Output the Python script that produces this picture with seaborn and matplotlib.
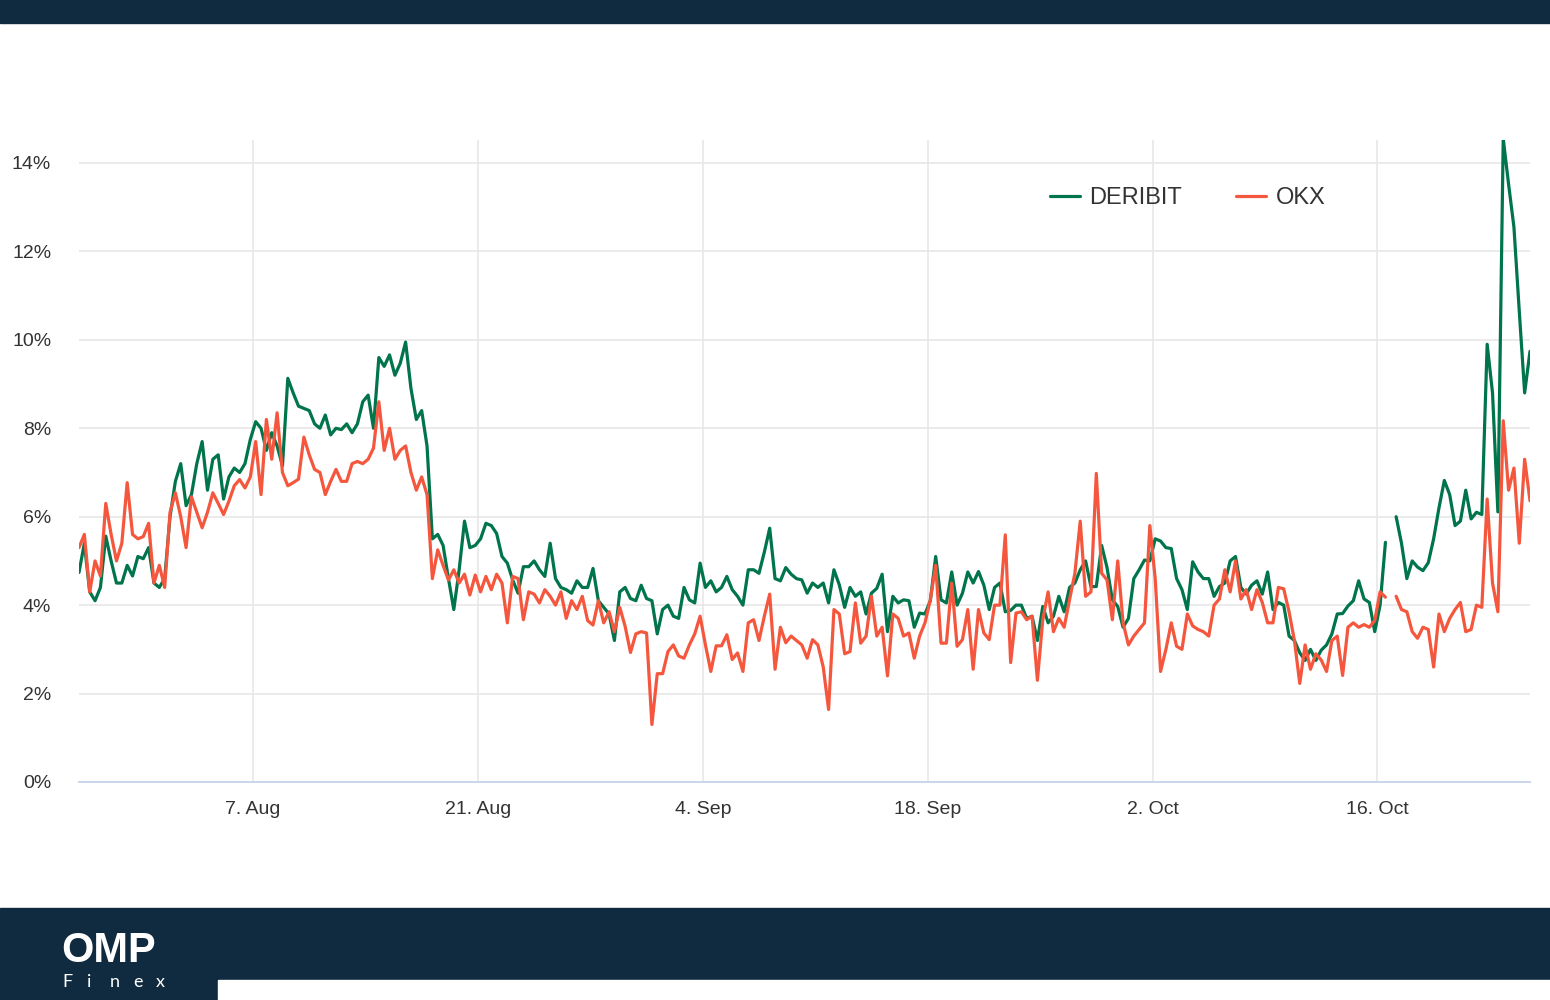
import numpy as np
import pandas as pd
import matplotlib.pyplot as plt
import matplotlib.dates as mdates
from matplotlib.lines import Line2D
from matplotlib.patches import Rectangle
import seaborn as sns

# values, one sample every 8 hours (3 per day)
start = "2023-07-27 04:00"
deribit = [
    4.74, 5.40, 4.30,  4.10, 4.40, 5.56,  5.00, 4.50, 4.50,  4.90, 4.66, 5.10,
    5.05, 5.30, 4.50,  4.40, 4.60, 6.00,  6.80, 7.20, 6.25,  6.50, 7.20, 7.70,
    6.60, 7.30, 7.40,  6.40, 6.90, 7.10,  7.00, 7.20, 7.75,  8.15, 8.00, 7.50,
    7.90, 7.60, 7.15,  9.13, 8.80, 8.50,  8.45, 8.40, 8.10,  8.00, 8.30, 7.85,
    8.00, 7.97, 8.10,  7.90, 8.10, 8.60,  8.75, 8.00, 9.60,  9.40, 9.66, 9.20,
    9.47, 9.95, 8.90,  8.20, 8.40, 7.60,  5.50, 5.60, 5.35,  4.60, 3.90, 4.80,
    5.90, 5.30, 5.35,  5.50, 5.85, 5.80,  5.62, 5.10, 4.95,  4.57, 4.27, 4.87,
    4.87, 5.00, 4.80,  4.65, 5.40, 4.60,  4.40, 4.35, 4.27,  4.55, 4.40, 4.40,
    4.83, 4.10, 3.95,  3.80, 3.20, 4.30,  4.40, 4.15, 4.10,  4.45, 4.15, 4.10,
    3.35, 3.90, 4.00,  3.75, 3.70, 4.40,  4.12, 4.05, 4.95,  4.40, 4.55, 4.30,
    4.40, 4.65, 4.35,  4.20, 4.00, 4.80,  4.80, 4.72, 5.20,  5.74, 4.60, 4.55,
    4.85, 4.70, 4.60,  4.57, 4.27, 4.50,  4.40, 4.50, 4.05,  4.80, 4.46, 3.95,
    4.40, 4.20, 4.30,  3.80, 4.27, 4.38,  4.70, 3.40, 4.20,  4.05, 4.12, 4.10,
    3.50, 3.82, 3.80,  4.10, 5.10, 4.12,  4.05, 4.75, 4.00,  4.27, 4.75, 4.50,
    4.76, 4.45, 3.90,  4.40, 4.50, 3.85,  3.88, 4.00, 4.00,  3.70, 3.75, 3.20,
    3.97, 3.60, 3.75,  4.20, 3.85, 4.40,  4.50, 4.80, 5.00,  4.42, 4.42, 5.35,
    4.85, 4.12, 3.97,  3.50, 3.70, 4.60,  4.80, 5.02, 5.00,  5.50, 5.45, 5.30,
    5.28, 4.60, 4.35,  3.90, 4.98, 4.75,  4.60, 4.60, 4.20,  4.42, 4.50, 5.00,
    5.10, 4.40, 4.25,  4.45, 4.55, 4.25,  4.75, 3.90, 4.06,  4.00, 3.30, 3.20,
    2.92, 2.75, 3.00,  2.75, 2.98, 3.10,  3.35, 3.80, 3.81,  3.98, 4.10, 4.55,
    4.14, 4.06, 3.40,  4.00, 5.42, np.nan,  6.00, 5.40, 4.60,  5.00, 4.86, 4.78,
    4.96, 5.50, 6.20,  6.82, 6.50, 5.80,  5.90, 6.60, 5.95,  6.10, 6.05, 9.90,
    8.80, 6.11, 14.55,  13.52, 12.55, 10.64,  8.80, 9.74,
]
okx = [
    5.30, 5.60, 4.30,  5.00, 4.66, 6.30,  5.60, 5.00, 5.40,  6.77, 5.60, 5.50,
    5.55, 5.85, 4.50,  4.90, 4.40, 6.10,  6.54, 6.00, 5.30,  6.45, 6.10, 5.75,
    6.10, 6.54, 6.30,  6.05, 6.35, 6.70,  6.84, 6.65, 6.90,  7.70, 6.50, 8.20,
    7.30, 8.35, 7.00,  6.70, 6.77, 6.85,  7.80, 7.40, 7.07,  7.00, 6.50, 6.80,
    7.07, 6.80, 6.80,  7.20, 7.25, 7.20,  7.30, 7.55, 8.60,  7.50, 8.00, 7.30,
    7.50, 7.60, 7.00,  6.60, 6.90, 6.50,  4.60, 5.25, 4.90,  4.57, 4.80, 4.50,
    4.70, 4.23, 4.68,  4.30, 4.65, 4.35,  4.70, 4.50, 3.60,  4.65, 4.60, 3.67,
    4.30, 4.25, 4.05,  4.35, 4.20, 4.00,  4.30, 3.70, 4.10,  3.90, 4.20, 3.65,
    3.55, 4.10, 3.60,  3.85, 3.40, 3.95,  3.52, 2.93, 3.35,  3.40, 3.37, 1.30,
    2.45, 2.45, 2.95,  3.10, 2.85, 2.80,  3.10, 3.35, 3.75,  3.10, 2.50, 3.08,
    3.08, 3.33, 2.77,  2.92, 2.50, 3.60,  3.67, 3.20, 3.75,  4.25, 2.55, 3.50,
    3.15, 3.30, 3.20,  3.10, 2.80, 3.22,  3.10, 2.60, 1.64,  3.90, 3.80, 2.90,
    2.95, 4.05, 3.14,  3.30, 4.20, 3.30,  3.50, 2.40, 3.80,  3.70, 3.30, 3.37,
    2.80, 3.30, 3.60,  4.12, 4.90, 3.14,  3.14, 4.50, 3.07,  3.22, 3.90, 2.55,
    3.90, 3.37, 3.22,  4.00, 4.00, 5.59,  2.70, 3.82, 3.85,  3.67, 3.75, 2.30,
    3.67, 4.30, 3.40,  3.70, 3.50, 4.12,  4.72, 5.90, 4.20,  4.30, 6.98, 4.72,
    4.57, 3.67, 5.00,  3.60, 3.10, 3.30,  3.45, 3.60, 5.80,  4.60, 2.50, 3.00,
    3.60, 3.07, 3.00,  3.80, 3.53, 3.45,  3.40, 3.30, 4.00,  4.14, 4.80, 4.30,
    5.00, 4.14, 4.35,  3.90, 4.35, 4.06,  3.60, 3.60, 4.40,  4.37, 3.85, 3.20,
    2.23, 3.10, 2.55,  2.90, 2.76, 2.50,  3.20, 3.30, 2.41,  3.50, 3.60, 3.50,
    3.56, 3.50, 3.65,  4.30, 4.18, np.nan,  4.20, 3.90, 3.85,  3.40, 3.25, 3.50,
    3.45, 2.60, 3.80,  3.40, 3.70, 3.90,  4.06, 3.40, 3.45,  4.00, 3.95, 6.40,
    4.50, 3.85, 8.17,  6.60, 7.10, 5.40,  7.30, 6.36,
]
series_names = ["DERIBIT", "OKX"]
colors = ["#00744b", "#f4573d"]
tick_dates = ["2023-08-07", "2023-08-21", "2023-09-04", "2023-09-18", "2023-10-02", "2023-10-16"]
tick_labels = ["7. Aug", "21. Aug", "4. Sep", "18. Sep", "2. Oct", "16. Oct"]
y_ticks = [0, 2, 4, 6, 8, 10, 12, 14]

navy = "#102b40"
grid_c = "#e6e6e6"
axis_c = "#ccd6eb"
text_c = "#333333"

sns.set_style("white")
plt.rcParams["font.family"] = ["Liberation Sans", "DejaVu Sans"]

times = pd.date_range(start, periods=len(deribit), freq="8h")
df = pd.DataFrame({"time": times, "DERIBIT": deribit, "OKX": okx})
# a missing sample splits the lines into two pieces
df["segment"] = df["DERIBIT"].isna().cumsum()
long = df.melt(id_vars=["time", "segment"], var_name="exchange", value_name="rate").dropna()

fig = plt.figure(figsize=(15.5, 10), dpi=100)
ax = fig.add_axes([79 / 1550, 218 / 1000, 1451 / 1550, 642 / 1000])

sns.lineplot(data=long, x="time", y="rate", hue="exchange", units="segment",
             estimator=None, palette=dict(zip(series_names, colors)),
             lw=2.3, legend=False, ax=ax)

ax.set_xlim(times[0], times[-1])
ax.set_ylim(0, 14.52)
ax.set_xlabel("")
ax.set_ylabel("")

ax.set_yticks(y_ticks)
ax.set_yticklabels([f"{v}%" for v in y_ticks])
ax.set_xticks(mdates.date2num(pd.to_datetime(tick_dates)))
ax.set_xticklabels(tick_labels)

ax.set_axisbelow(True)
ax.grid(True, color=grid_c, lw=1.1)
for side in ["top", "right", "left"]:
    ax.spines[side].set_visible(False)
ax.spines["bottom"].set_color(axis_c)
ax.spines["bottom"].set_linewidth(1.4)
ax.tick_params(axis="y", length=0, pad=20, labelsize=14, labelcolor=text_c)
ax.tick_params(axis="x", length=11.5, width=1, color=axis_c, pad=2,
               labelsize=14, labelcolor=text_c)

handles = [Line2D([], [], color=c, lw=2.3) for c in colors]
fig.legend(handles, series_names, loc="center left",
           bbox_to_anchor=(1050 / 1550, 1 - 198 / 1000), ncol=2, frameon=False,
           fontsize=17, labelcolor=text_c, handlelength=1.25, handletextpad=0.42,
           columnspacing=2.3, borderpad=0, borderaxespad=0)

# header and footer bands
fig.patches.append(Rectangle((0, 0.977), 1, 0.023, transform=fig.transFigure,
                             color=navy, zorder=-1))
fig.patches.append(Rectangle((0, 0), 1, 0.092, transform=fig.transFigure,
                             color=navy, zorder=-1))
fig.patches.append(Rectangle((218 / 1550, 0), 1 - 218 / 1550, 0.02,
                             transform=fig.transFigure, color="white", zorder=0))

fig.text(61 / 1550, 1 - 962 / 1000, "OMP", color="white", fontsize=30,
         fontweight="bold", va="baseline", ha="left")
for ch, xp in zip("Finex", [62, 87, 110, 133, 156]):
    fig.text(xp / 1550, 1 - 987 / 1000, ch, color="white", fontsize=13,
             va="baseline", ha="left", family=["Lato", "Liberation Sans"])

fig.savefig("out.png", dpi=100)
